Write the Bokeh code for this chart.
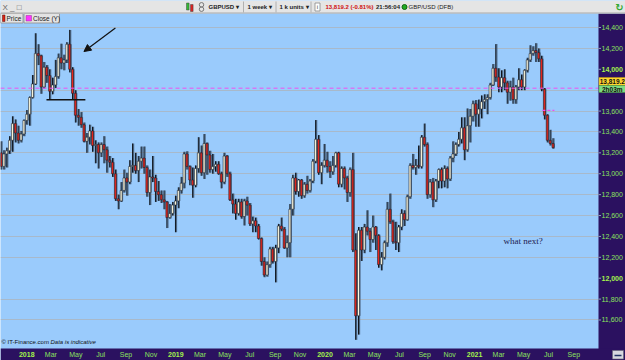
import datetime as dt
from bokeh.plotting import figure
from bokeh.models import Range1d, FixedTicker, ColumnDataSource, Arrow, NormalHead
from bokeh.core.properties import value
from bokeh.embed import file_html
from bokeh.resources import INLINE

# ---------------- data (weekly GBPUSD candles, price x 10,000) ----------------
first_week = dt.date(2017, 10, 30)

opens = [13200, 13070, 13190, 13220, 13320, 13480, 13390, 13320, 13380, 13510,
         13570, 13730, 13860, 14150, 14130, 13830, 14020, 13940, 13790, 13850,
         13930, 14110, 14060, 14090, 14240, 14000, 13770, 13560, 13540, 13470,
         13310, 13350, 13410, 13270, 13280, 13200, 13280, 13230, 13130, 13110,
         13000, 12760, 12740, 12840, 12960, 12920, 13070, 13080, 13030, 13120,
         13150, 13060, 12820, 12970, 12960, 12830, 12800, 12750, 12730, 12580,
         12620, 12700, 12740, 12840, 12910, 13190, 13070, 12940, 12890, 13050,
         13200, 13010, 13290, 13180, 13040, 13070, 13090, 13000, 12920, 13170,
         13000, 12750, 12710, 12620, 12730, 12590, 12740, 12700, 12520, 12550,
         12500, 12380, 12160, 12030, 12130, 12280, 12160, 12290, 12500, 12470,
         12290, 12340, 12660, 12960, 12830, 12940, 12790, 12900, 12840, 12930,
         13120, 13330, 13010, 13080, 13130, 13070, 13020, 13080, 13200, 12900,
         13050, 12960, 12820, 13040, 12270, 11640, 12460, 12270, 12490, 12450,
         12370, 12490, 12410, 12130, 12200, 12340, 12660, 12540, 12350, 12340,
         12490, 12620, 12560, 12780, 13080, 13060, 13080, 13070, 13350, 13280,
         12800, 12920, 12750, 12930, 13040, 12930, 13050, 12950, 13150, 13190,
         13280, 13330, 13440, 13230, 13460, 13550, 13670, 13570, 13620, 13690,
         13710, 13730, 13850, 14010, 13925, 13830, 13920, 13870, 13780, 13830,
         13710, 13830, 13900, 13830, 13990, 14090, 14150, 14180, 14160, 14100,
         13810, 13560, 13320, 13290]
highs = [13310, 13225, 13250, 13360, 13550, 13520, 13460, 13410, 13520, 13610,
         13740, 13945, 14345, 14240, 14140, 14070, 14040, 14000, 13920, 14090,
         14150, 14245, 14140, 14260, 14377, 14020, 13800, 13620, 13590, 13490,
         13390, 13470, 13450, 13320, 13300, 13300, 13360, 13260, 13170, 13150,
         13040, 12800, 12920, 13040, 13010, 13130, 13290, 13200, 13170, 13260,
         13260, 13080, 13040, 13170, 12990, 12930, 12840, 12840, 12740, 12710,
         12730, 12790, 12870, 12970, 13210, 13215, 13080, 13060, 13080, 13350,
         13270, 13380, 13300, 13220, 13190, 13120, 13120, 13020, 13200, 13180,
         13020, 12810, 12760, 12760, 12760, 12760, 12780, 12720, 12590, 12580,
         12520, 12390, 12200, 12160, 12300, 12300, 12320, 12520, 12580, 12490,
         12410, 12710, 12990, 13010, 12950, 12950, 12920, 12980, 12950, 13140,
         13514, 13370, 13110, 13285, 13210, 13120, 13170, 13210, 13210, 13070,
         13070, 12980, 13060, 13200, 12430, 12490, 12490, 12520, 12650, 12480,
         12600, 12500, 12420, 12250, 12360, 12730, 12810, 12560, 12540, 12510,
         12660, 12650, 12800, 13100, 13190, 13140, 13270, 13370, 13480, 13300,
         12950, 12960, 12950, 13050, 13060, 13080, 13070, 13170, 13310, 13300,
         13400, 13540, 13540, 13625, 13620, 13700, 13705, 13710, 13750, 13760,
         13760, 13870, 14050, 14241, 14010, 13990, 14000, 13890, 13890, 13920,
         13850, 14010, 13950, 14000, 14110, 14230, 14220, 14250, 14200, 14130,
         13820, 13570, 13420, 13340]
lows = [13040, 13040, 13060, 13190, 13210, 13300, 13290, 13300, 13360, 13470,
        13460, 13720, 13850, 14040, 13765, 13815, 13870, 13710, 13760, 13820,
        13910, 14000, 13990, 14060, 13970, 13710, 13490, 13460, 13440, 13300,
        13200, 13280, 13210, 13100, 13050, 13160, 13100, 13010, 13060, 12970,
        12740, 12660, 12730, 12820, 12790, 12900, 13010, 13000, 12920, 13050,
        13000, 12780, 12700, 12920, 12730, 12740, 12720, 12660, 12480, 12570,
        12600, 12440, 12670, 12810, 12860, 13040, 12890, 12770, 12870, 13010,
        12980, 12950, 12990, 13010, 13000, 13020, 12990, 12860, 12900, 12970,
        12740, 12620, 12560, 12600, 12570, 12505, 12600, 12500, 12440, 12440,
        12370, 12120, 12010, 12015, 12100, 12140, 11960, 12240, 12450, 12280,
        12200, 12200, 12600, 12800, 12780, 12760, 12770, 12810, 12820, 12910,
        13100, 12990, 12900, 13060, 13010, 12960, 12990, 13060, 12870, 12870,
        12850, 12730, 12780, 12250, 11410, 11460, 12165, 12240, 12410, 12250,
        12340, 12270, 12100, 12075, 12180, 12300, 12520, 12330, 12270, 12250,
        12460, 12500, 12550, 12760, 13040, 12990, 13050, 13050, 13260, 12760,
        12770, 12680, 12730, 12860, 12860, 12870, 12860, 12930, 13110, 13170,
        13260, 13290, 13130, 13210, 13300, 13500, 13450, 13450, 13530, 13620,
        13570, 13710, 13840, 13880, 13780, 13780, 13800, 13670, 13700, 13670,
        13670, 13800, 13800, 13800, 13970, 14070, 14130, 14070, 14070, 13790,
        13520, 13300, 13270, 13240]
closes = [13070, 13190, 13220, 13320, 13480, 13390, 13320, 13380, 13510, 13570,
          13730, 13860, 14150, 14130, 13830, 14020, 13940, 13790, 13850, 13930,
          14110, 14060, 14090, 14240, 14000, 13770, 13560, 13540, 13470, 13310,
          13350, 13410, 13270, 13280, 13200, 13280, 13230, 13130, 13110, 13000,
          12760, 12740, 12840, 12960, 12920, 13070, 13080, 13030, 13120, 13150,
          13060, 12820, 12970, 12960, 12830, 12800, 12750, 12730, 12580, 12620,
          12700, 12740, 12840, 12910, 13190, 13070, 12940, 12890, 13050, 13200,
          13010, 13290, 13180, 13040, 13070, 13090, 13000, 12920, 13170, 13000,
          12750, 12710, 12620, 12730, 12590, 12740, 12700, 12520, 12550, 12500,
          12380, 12160, 12030, 12130, 12280, 12160, 12290, 12500, 12470, 12290,
          12340, 12660, 12960, 12830, 12940, 12790, 12900, 12840, 12930, 13120,
          13330, 13010, 13080, 13130, 13070, 13020, 13080, 13200, 12900, 13050,
          12960, 12820, 13040, 12270, 11640, 12460, 12270, 12490, 12450, 12370,
          12490, 12410, 12130, 12200, 12340, 12660, 12540, 12350, 12340, 12490,
          12620, 12560, 12780, 13080, 13060, 13080, 13070, 13350, 13280, 12800,
          12920, 12750, 12930, 13040, 12930, 13050, 12950, 13150, 13190, 13280,
          13330, 13440, 13230, 13460, 13550, 13670, 13570, 13620, 13690, 13710,
          13730, 13850, 14010, 13925, 13830, 13920, 13870, 13780, 13830, 13710,
          13830, 13900, 13830, 13990, 14090, 14150, 14180, 14160, 14100, 13810,
          13560, 13320, 13290, 13250]

y_ticks = [11600, 11800, 12000, 12200, 12400, 12600, 12800, 13000, 13200,
           13400, 13600, 13800, 14000, 14200, 14400]
bold_y_ticks = [12000, 14000]
x_tick_months = ["2018-01", "2018-03", "2018-05", "2018-07", "2018-09", "2018-11",
                 "2019-01", "2019-03", "2019-05", "2019-07", "2019-09", "2019-11",
                 "2020-01", "2020-03", "2020-05", "2020-07", "2020-09", "2020-11",
                 "2021-01", "2021-03", "2021-05", "2021-07", "2021-09"]
x_tick_labels = ["2018", "Mar", "May", "Jul", "Sep", "Nov",
                 "2019", "Mar", "May", "Jul", "Sep", "Nov",
                 "2020", "Mar", "May", "Jul", "Sep", "Nov",
                 "2021", "Mar", "May", "Jul", "Sep"]

last_price = 13819.2
price_tag = "13,819.2"
timer_tag = "2h03m"
close_y_level = 13606
close_y_weeks = (189.3, 193.5)
header_quote = "13,819.2 (-0.81%)"
header_time = "21:56:04"
note_text = "what next?"
note_at = (175.7, 12360)
arrow_from = (40.0, 14395)
arrow_to = (29.0, 14170)
support_level = 13709
support_weeks = (15.9, 29.5)

# ---------------- page geometry (frame = whole 625x360 page) ----------------
W, H = 625, 360
PX_PER_WEEK = 2.86
VAL_PER_PX = 9.573
V_TOP = 14658.5
X0 = -0.5 / PX_PER_WEEK
X1 = X0 + W / PX_PER_WEEK
Y1 = V_TOP
Y0 = V_TOP - H * VAL_PER_PX
PANEL_X = 598      # left edge of the right price panel (px)
STRIP_Y = 348      # top edge of the bottom date strip (px)
BAR_H = 13         # height of the top tool bar (px)

PURPLE = "#2b1160"
GREEN = "#8be25e"
BRIGHT = "#a4f24c"
FNAME = "Liberation Sans"
FONT = value(FNAME)


def px_x(px):
    return X0 + px / PX_PER_WEEK


def px_y(py):
    return V_TOP - py * VAL_PER_PX


# ---------------- derived ----------------
n = len(closes)
idx = list(range(n))
tick_pos = []
for m in x_tick_months:
    yy, mo = m.split("-")
    d = dt.date(int(yy), int(mo), 1)
    tick_pos.append(round((d - first_week).days / 7.0, 3))

up = [c >= o for o, c in zip(opens, closes)]
src = ColumnDataSource(dict(
    x=idx,
    xs=[i + 0.35 for i in idx],
    h=highs, l=lows,
    top=[max(o, c) for o, c in zip(opens, closes)],
    bot=[min(o, c) for o, c in zip(opens, closes)],
    fill=["#fffbe0" if u else "#e8261c" for u in up],
))

p = figure(frame_width=W, frame_height=H, x_range=Range1d(X0, X1),
           y_range=Range1d(Y0, Y1), y_axis_location="right",
           toolbar_location=None, output_backend="svg",
           background_fill_color="#9acbfc", border_fill_color=PURPLE,
           outline_line_color=None, min_border=0)

p.xgrid.visible = False
p.ygrid.ticker = FixedTicker(ticks=[t for t in y_ticks if t not in bold_y_ticks])
p.ygrid.grid_line_color = "#a8b9ca"
p.ygrid.grid_line_width = 1

# right price axis: labels drawn back inside the purple panel
p.yaxis.ticker = FixedTicker(ticks=y_ticks)
p.yaxis.major_label_overrides = {
    t: ("" if (t in bold_y_ticks or abs(t - last_price) < 100) else f"{t:,}")
    for t in y_ticks}
p.yaxis.major_label_text_font = FNAME
p.yaxis.major_label_text_font_size = "7px"
p.yaxis.major_label_text_color = GREEN
p.yaxis.major_label_standoff = -(W - PANEL_X - 3)
p.yaxis.major_tick_out = 0
p.yaxis.major_tick_in = 0
p.yaxis.major_tick_line_color = None
p.yaxis.minor_tick_line_color = None
p.yaxis.axis_line_color = None

# date axis: labels drawn back inside the bottom strip
p.xaxis.ticker = FixedTicker(ticks=tick_pos)
p.xaxis.major_label_overrides = {t: ("" if lab.isdigit() else lab)
                                 for t, lab in zip(tick_pos, x_tick_labels)}
p.xaxis.major_label_text_font = FNAME
p.xaxis.major_label_text_font_size = "7px"
p.xaxis.major_label_text_color = GREEN
p.xaxis.major_label_standoff = -(H - STRIP_Y - 2)
p.xaxis.major_tick_out = 0
p.xaxis.major_tick_in = 0
p.xaxis.major_tick_line_color = None
p.xaxis.minor_tick_line_color = None
p.xaxis.axis_line_color = None

# ---- candles: shadow, wick, body ----
p.segment(x0="xs", x1="xs", y0="l", y1="h", source=src, line_color="#4c6683", line_width=1.3)
p.vbar(x="xs", top="top", bottom="bot", width=0.7, source=src,
       fill_color="#4c6683", line_color=None)
p.segment(x0="x", x1="x", y0="l", y1="h", source=src, line_color="#0e141c", line_width=1)
p.vbar(x="x", top="top", bottom="bot", width=0.7, source=src,
       fill_color="fill", line_color="#1c2430", line_width=0.6)

# ---- current price line and previous-close marker ----
p.segment(x0=[px_x(0)], x1=[px_x(PANEL_X)], y0=[last_price], y1=[last_price],
          line_color="#f050f0", line_dash="4 3", line_width=1)
p.segment(x0=[close_y_weeks[0]], x1=[close_y_weeks[1]], y0=[close_y_level],
          y1=[close_y_level], line_color="#f050f0", line_dash="3 2", line_width=1.2)

# ---- hand-drawn annotations ----
p.segment(x0=[support_weeks[0]], x1=[support_weeks[1]], y0=[support_level],
          y1=[support_level], line_color="#111111", line_width=1.6)
p.add_layout(Arrow(end=NormalHead(size=7, fill_color="#111111", line_color="#111111"),
                   x_start=arrow_from[0], y_start=arrow_from[1],
                   x_end=arrow_to[0], y_end=arrow_to[1],
                   line_color="#111111", line_width=1.2))
p.text(x=[note_at[0]], y=[note_at[1]], text=[note_text],
       text_font=value("Liberation Serif"), text_font_size="9px",
       text_color="#1c1c50", text_baseline="middle")

# ---- legend boxes (top-left of chart) ----
p.quad(left=[px_x(0), px_x(23.5)], right=[px_x(22.5), px_x(59)],
       top=[px_y(BAR_H), px_y(BAR_H)], bottom=[px_y(BAR_H + 9.5), px_y(BAR_H + 9.5)],
       fill_color="#e3e3e3", line_color="#9a9a9a", line_width=1)
p.quad(left=[px_x(2), px_x(25.5)], right=[px_x(4.5), px_x(31)],
       top=[px_y(BAR_H + 1.5), px_y(BAR_H + 2)], bottom=[px_y(BAR_H + 8), px_y(BAR_H + 7.5)],
       fill_color=["#dd2211", "#ff33ff"], line_color=["#551111", "#993399"], line_width=0.5)
p.text(x=[px_x(6), px_x(32.5)], y=[px_y(BAR_H + 5)] * 2, text=["Price", "Close (Y)"],
       text_font=FONT, text_font_size="6.5px", text_color="#222222",
       text_baseline="middle")

# ---- footer ----
p.text(x=[px_x(1), px_x(50)], y=[px_y(STRIP_Y - 7)] * 2,
       text=["\u00a9 IT-Finance.com", "Data is indicative"],
       text_font=FONT, text_font_size="6px", text_color="#111111",
       text_font_style=["normal", "italic"], text_baseline="middle")

# ---- purple right panel and bottom strip ----
p.quad(left=[px_x(PANEL_X), px_x(0)], right=[px_x(W), px_x(W)],
       top=[px_y(BAR_H), px_y(STRIP_Y)], bottom=[px_y(H), px_y(H)],
       fill_color=PURPLE, line_color=None)
p.segment(x0=[px_x(PANEL_X)] * len(y_ticks), x1=[px_x(PANEL_X + 2.5)] * len(y_ticks),
          y0=y_ticks, y1=y_ticks, line_color="#8aa0c0", line_width=1)
# bold round-number labels and year labels
p.text(x=[px_x(PANEL_X + 3)] * len(bold_y_ticks), y=bold_y_ticks,
       text=[f"{t:,}" for t in bold_y_ticks], text_font=FONT, text_font_size="7px",
       text_font_style="bold", text_color=BRIGHT, text_baseline="middle")
years = [(t, lab) for t, lab in zip(tick_pos, x_tick_labels) if lab.isdigit()]
p.text(x=[t for t, _ in years], y=[px_y((STRIP_Y + H) / 2)] * len(years),
       text=[lab for _, lab in years], text_font=FONT, text_font_size="7px",
       text_font_style="bold", text_color=BRIGHT, text_baseline="middle",
       text_align="center")
# ruler icon bottom-right
p.quad(left=[px_x(612)], right=[px_x(623)], top=[px_y(350)], bottom=[px_y(358.5)],
       fill_color="#d8d8e0", line_color="#666677", line_width=0.6)
p.segment(x0=[px_x(614)], x1=[px_x(621)], y0=[px_y(355)], y1=[px_y(355)],
          line_color="#223366", line_width=1.5)

# ---- price tags ----
p.quad(left=[px_x(PANEL_X + 0.5)] * 2, right=[px_x(W)] * 2,
       top=[px_y(77), px_y(85)], bottom=[px_y(85), px_y(92)],
       fill_color=["#ffd52e", "#7fdc7f"], line_color=["#b89a10", "#3c8f3c"], line_width=0.5)
p.text(x=[px_x((PANEL_X + W) / 2 + 0.3)] * 2, y=[px_y(81.2), px_y(88.7)],
       text=[price_tag, timer_tag], text_font=FONT, text_font_size="6.5px",
       text_font_style="bold", text_color="#111111", text_baseline="middle",
       text_align="center")

# ---- top tool bar ----
p.quad(left=[px_x(0)], right=[px_x(W)], top=[px_y(0)], bottom=[px_y(BAR_H)],
       fill_color="#e5e5e5", line_color=None)
p.segment(x0=[px_x(0)], x1=[px_x(W)], y0=[px_y(BAR_H - 0.5)], y1=[px_y(BAR_H - 0.5)],
          line_color="#a8a8a8", line_width=1)
ty = px_y(6.5)
p.text(x=[px_x(2)], y=[ty], text=["X  _  \u25a1"], text_font=FONT, text_font_size="8px",
       text_color="#666666", text_baseline="middle")
p.quad(left=[px_x(186), px_x(190)], right=[px_x(188.6), px_x(192.6)],
       top=[px_y(2.5), px_y(4)], bottom=[px_y(9.5), px_y(11)],
       fill_color=["#33bb33", "#dd2222"], line_color="#444444", line_width=0.5)
p.scatter(x=[px_x(201)] * 2, y=[px_y(4.3), px_y(8.7)], size=4.5, marker="circle",
          fill_color=None, line_color="#777777", line_width=1)
p.segment(x0=[px_x(xx) for xx in [243, 275.5, 310.5]],
          x1=[px_x(xx) for xx in [243, 275.5, 310.5]],
          y0=[px_y(1)] * 3, y1=[px_y(12)] * 3, line_color="#b0b0b0", line_width=1)
p.text(x=[px_x(208), px_x(247), px_x(279)], y=[ty] * 3,
       text=["GBPUSD \u25be", "1 week \u25be", "1 k units \u25be"],
       text_font=FONT, text_font_size="6px", text_font_style="bold",
       text_color="#222222", text_baseline="middle")
p.quad(left=[px_x(314.5)], right=[px_x(319.5)], top=[px_y(2.5)], bottom=[px_y(10.5)],
       fill_color="#ffffff", line_color="#888888", line_width=0.8)
p.text(x=[px_x(317)], y=[ty], text=["i"], text_font=FONT, text_font_size="6px",
       text_color="#333333", text_baseline="middle", text_align="center")
p.text(x=[px_x(325)], y=[ty], text=[header_quote], text_font=FONT, text_font_size="6px",
       text_font_style="bold", text_color="#d01010", text_baseline="middle")
p.text(x=[px_x(375.5)], y=[ty], text=[header_time], text_font=FONT, text_font_size="6px",
       text_font_style="bold", text_color="#222222", text_baseline="middle")
p.scatter(x=[px_x(404)], y=[ty], size=5, fill_color="#22aa22", line_color="#116611")
p.text(x=[px_x(408)], y=[ty], text=["GBP/USD (DFB)"], text_font=FONT, text_font_size="6px",
       text_color="#222222", text_baseline="middle")
p.text(x=[px_x(619)], y=[ty], text=["\u21bb"], text_font=value("DejaVu Sans"),
       text_font_size="10px", text_font_style="bold", text_color="#33aa33",
       text_baseline="middle", text_align="center")

open("out.html", "w").write(file_html(p, INLINE))
